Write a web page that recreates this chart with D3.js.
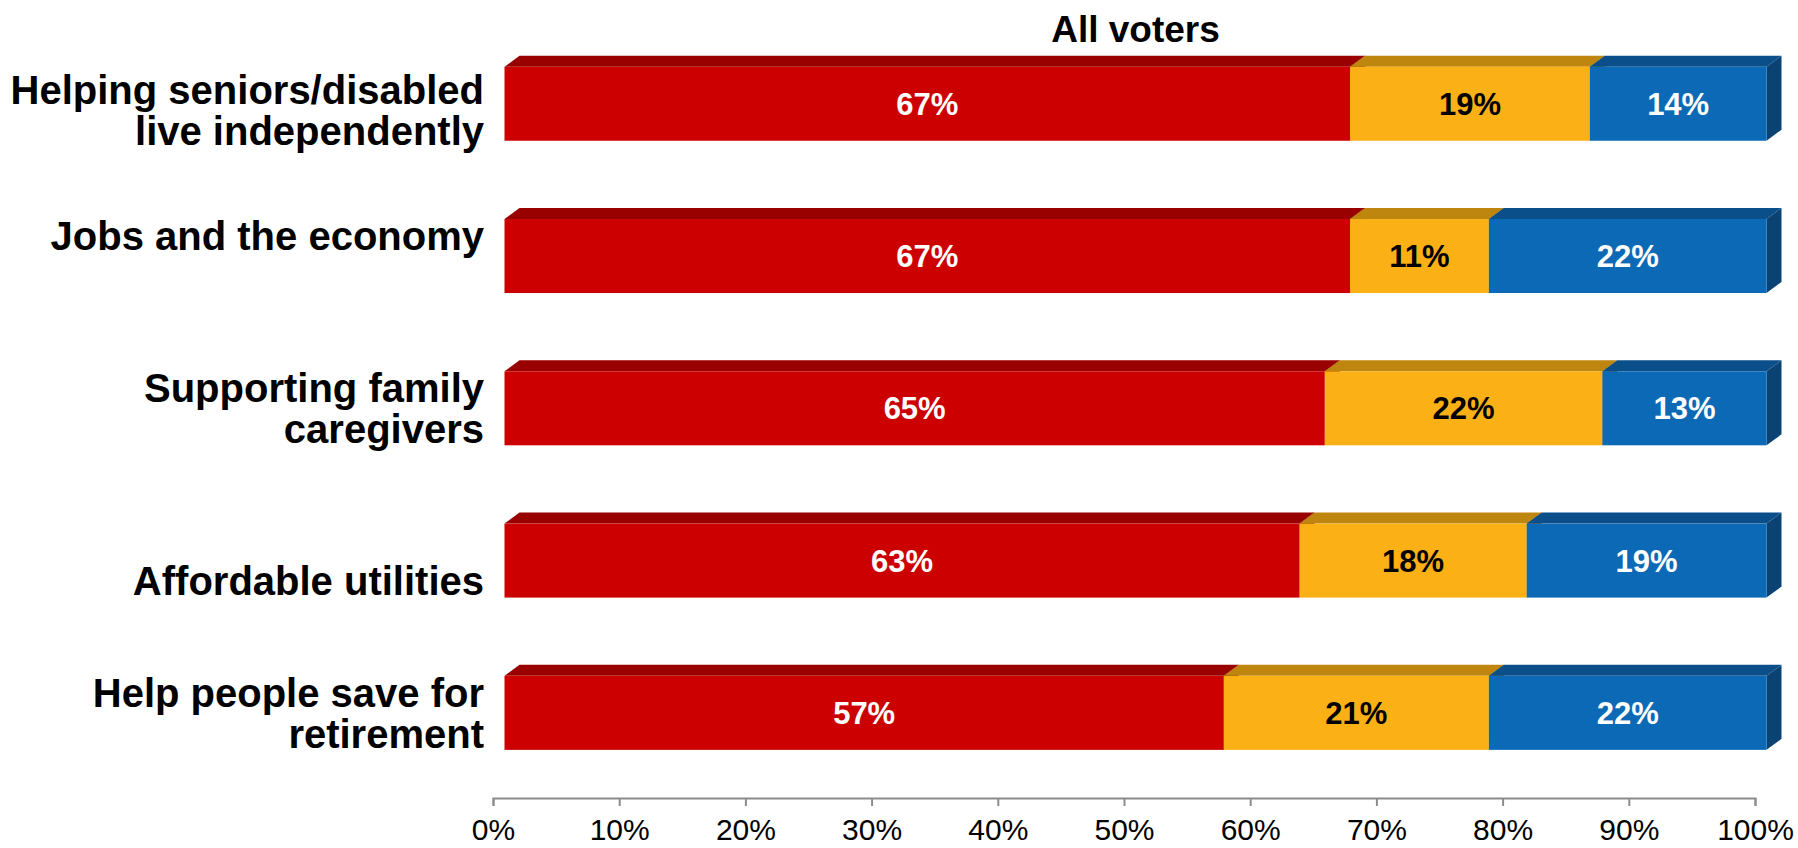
<!DOCTYPE html>
<html>
<head>
<meta charset="utf-8">
<script src="https://cdn.jsdelivr.net/npm/d3@7"></script>
<style>
  html, body { margin: 0; padding: 0; background: #ffffff; }
  svg { display: block; }
  text { font-family: "Liberation Sans", Arial, Helvetica, sans-serif; }
</style>
</head>
<body>
<svg id="chart" width="1798" height="848"></svg>
<script>
// Categories (line breaks mark wrapped / offset label lines)
const categories = [
  "Helping seniors/disabled\nlive independently",
  "Jobs and the economy\n",
  "Supporting family\ncaregivers",
  "\nAffordable utilities",
  "Help people save for\nretirement"
];

// Stacked segment values, in percent
const valuesA = [67, 67, 65, 63, 57];
const valuesB = [19, 11, 22, 18, 21];
const valuesC = [14, 22, 13, 19, 22];

const seriesKeys = ["a", "b", "c"];
const tickValues = [0, 10, 20, 30, 40, 50, 60, 70, 80, 90, 100];
const chartTitle = "All voters";

// Palette: front face, top face, side face, label colour
const palette = {
  a: { front: "#cc0000", top: "#990000", side: "#7f0000", label: "#ffffff" },
  b: { front: "#fbb116", top: "#bf860f", side: "#9c6d0c", label: "#000000" },
  c: { front: "#0c69b6", top: "#0b4f8a", side: "#0a4274", label: "#ffffff" }
};

const rows = categories.map((c, i) => ({ cat: c, a: valuesA[i], b: valuesB[i], c: valuesC[i] }));
const stacked = d3.stack().keys(seriesKeys)(rows);

const svg = d3.select("#chart");

// Scales
const x = d3.scaleLinear().domain([0, 100]).range([493, 1755]);
const y = d3.scaleBand()
  .domain(categories)
  .range([27.6, 789])
  .paddingInner(0.514)
  .paddingOuter(0.257);

// 3D extrusion of the bars
const depthX = 15, depthY = 11;
const frontShift = 11.5;
const fx = v => x(v) + frontShift;

const gBars = svg.append("g");

stacked.forEach(layer => {
  const key = layer.key;
  const col = palette[key];
  const g = gBars.append("g").attr("class", "series-" + key);
  layer.forEach((d, i) => {
    const cat = categories[i];
    const x0 = fx(d[0]), x1 = fx(d[1]);
    const y0 = y(cat), y1 = y(cat) + y.bandwidth();
    const seg = g.append("g");
    // right side face
    seg.append("path")
      .attr("d", `M${x1},${y0} L${x1 + depthX},${y0 - depthY} L${x1 + depthX},${y1 - depthY} L${x1},${y1} Z`)
      .attr("fill", col.side);
    // top face
    seg.append("path")
      .attr("d", `M${x0},${y0} L${x0 + depthX},${y0 - depthY} L${x1 + depthX},${y0 - depthY} L${x1},${y0} Z`)
      .attr("fill", col.top);
    // front face
    seg.append("rect")
      .attr("x", x0).attr("y", y0)
      .attr("width", x1 - x0).attr("height", y1 - y0)
      .attr("fill", col.front);
  });
});

// Value labels on the front faces
stacked.forEach(layer => {
  const col = palette[layer.key];
  svg.append("g").selectAll("text")
    .data(layer)
    .join("text")
    .attr("x", d => (fx(d[0]) + fx(d[1])) / 2)
    .attr("y", (d, i) => y(categories[i]) + y.bandwidth() / 2)
    .attr("dy", "0.36em")
    .attr("text-anchor", "middle")
    .attr("font-size", 31)
    .attr("font-weight", "bold")
    .attr("fill", col.label)
    .text(d => (d[1] - d[0]) + "%");
});

// Category labels
const lineH = 41;
const catG = svg.append("g");
categories.forEach((cat, i) => {
  const lines = cat.split("\n");
  const cy = y(cat) + y.bandwidth() / 2 + (i === 0 ? 6 : 0);
  const t = catG.append("text")
    .attr("text-anchor", "end")
    .attr("font-size", 40)
    .attr("font-weight", "bold")
    .attr("fill", "#000");
  lines.forEach((ln, j) => {
    t.append("tspan")
      .attr("x", 484)
      .attr("y", cy + (j - (lines.length - 1) / 2) * lineH + 14.3)
      .text(ln);
  });
});

// X axis
const axis = d3.axisBottom(x)
  .tickValues(tickValues)
  .tickFormat(d => d + "%")
  .tickSize(8)
  .tickSizeOuter(8)
  .tickPadding(13);

const gAxis = svg.append("g")
  .attr("transform", "translate(0,798)")
  .call(axis);
gAxis.select(".domain").attr("stroke", "#8c8c8c").attr("stroke-width", 2);
gAxis.selectAll(".tick line").attr("stroke", "#8c8c8c").attr("stroke-width", 2);
gAxis.selectAll(".tick text")
  .attr("font-family", "\"Liberation Sans\", Arial, sans-serif")
  .attr("font-size", 30)
  .attr("fill", "#000");

// Title
svg.append("text")
  .attr("x", (fx(0) + fx(100)) / 2)
  .attr("y", 42)
  .attr("text-anchor", "middle")
  .attr("font-size", 37)
  .attr("font-weight", "bold")
  .attr("fill", "#000")
  .text(chartTitle);
</script>
</body>
</html>
